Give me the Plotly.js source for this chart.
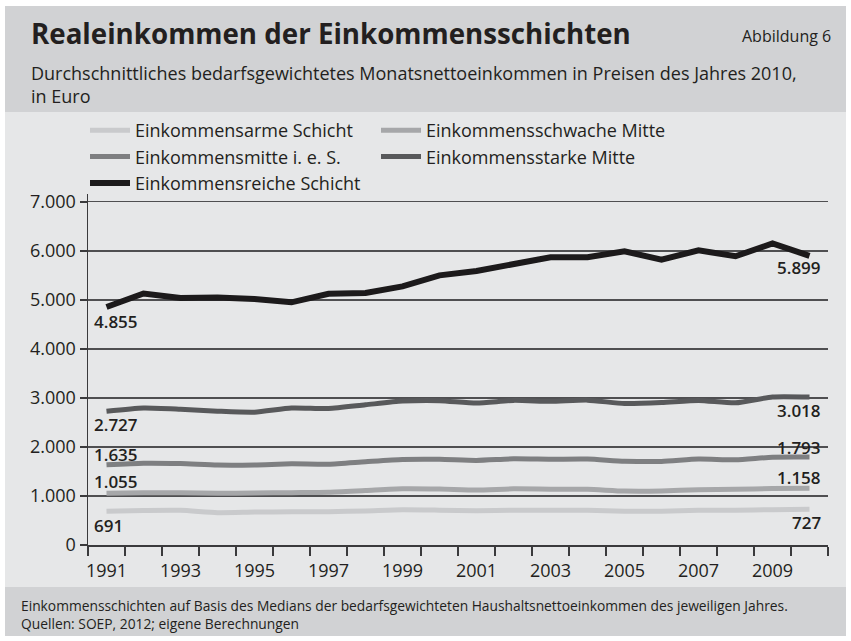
<!DOCTYPE html>
<html>
<head>
<meta charset="utf-8">
<script src="https://cdn.plot.ly/plotly-3.0.1.min.js"></script>
<style>html,body{margin:0;padding:0;background:#fff;}#chart{width:851px;height:641px;}</style>
</head>
<body>
<div id="chart"></div>
<script>
// ---- data ----
const years = [1991,1992,1993,1994,1995,1996,1997,1998,1999,2000,2001,2002,2003,2004,2005,2006,2007,2008,2009,2010];
const seriesNames = ["Einkommensarme Schicht","Einkommensschwache Mitte","Einkommensmitte i. e. S.","Einkommensstarke Mitte","Einkommensreiche Schicht"];
const arme     = [691, 705, 708, 660, 672, 676, 680, 695, 718, 710, 698, 708, 710, 708, 690, 688, 708, 710, 720, 727];
const schwache = [1055, 1065, 1068, 1055, 1060, 1068, 1075, 1110, 1145, 1140, 1120, 1145, 1138, 1136, 1100, 1102, 1128, 1135, 1152, 1158];
const mitte    = [1635, 1668, 1660, 1630, 1632, 1655, 1648, 1698, 1744, 1748, 1725, 1758, 1750, 1752, 1710, 1705, 1752, 1740, 1790, 1793];
const starke   = [2727, 2795, 2770, 2730, 2710, 2795, 2785, 2860, 2935, 2945, 2895, 2950, 2930, 2955, 2885, 2905, 2950, 2900, 3020, 3018];
const reiche   = [4855, 5130, 5040, 5050, 5020, 4950, 5125, 5140, 5275, 5500, 5590, 5725, 5870, 5870, 5990, 5820, 6010, 5890, 6150, 5899];
const xTickLabels = [1991,1993,1995,1997,1999,2001,2003,2005,2007,2009];
const yTickVals = [0,1000,2000,3000,4000,5000,6000,7000];

// ---- style ----
const allSeries = [arme, schwache, mitte, starke, reiche];
const colors = ["#c9cacc","#a6a7a9","#7e7f81","#58595b","#1c1a1b"];
const widths = [5,5,5,5,6];
const legendOf = ["legend","legend2","legend","legend2","legend"];
const leftShift  = [-14, 12, 10, -13, -14];
const rightShift = [-13, 10.5, 10, -13, -12];
const txt = "#231f20";
const FONT = "Open Sans, sans-serif";

const W = 851, H = 641, L = 88, R = 23, T = 194, B = 96;
const px = x => (x - L) / (W - L - R);
const py = y => 1 - (y - T) / (H - T - B);

const fmt = v => {
  const s = String(Math.round(v));
  return s.replace(/\B(?=(\d{3})+(?!\d))/g, ".");
};

const traces = allSeries.map((s, i) => ({
  x: years, y: s, type: "scatter", mode: "lines", name: seriesNames[i],
  line: {color: colors[i], width: widths[i], shape: i === 4 ? "linear" : "spline", smoothing: 0.6},
  legend: legendOf[i], hoverinfo: "x+y"
}));

const annotations = [];
allSeries.forEach((s, i) => {
  annotations.push({x: years[0], y: s[0], xref: "x", yref: "y", text: fmt(s[0]), showarrow: false,
    xanchor: "left", yanchor: "middle", xshift: -15, yshift: leftShift[i],
    font: {family: FONT, size: 17, color: txt, weight: 600}});
  const n = s.length - 1;
  annotations.push({x: years[n], y: s[n], xref: "x", yref: "y", text: fmt(s[n]), showarrow: false,
    xanchor: "right", yanchor: "middle", xshift: 13, yshift: rightShift[i],
    font: {family: FONT, size: 17, color: txt, weight: 600}});
});
// header / footer texts
annotations.push({xref:"paper", yref:"paper", x: px(29), y: py(33), xanchor:"left", yanchor:"middle", showarrow:false,
  text:"<b>Realeinkommen der Einkommensschichten</b>", font:{family:FONT, size:27.7, color:txt}});
annotations.push({xref:"paper", yref:"paper", x: px(833), y: py(36), xanchor:"right", yanchor:"middle", showarrow:false,
  text:"Abbildung 6", font:{family:FONT, size:16, color:txt}});
annotations.push({xref:"paper", yref:"paper", x: px(29), y: py(85), xanchor:"left", yanchor:"middle", showarrow:false, align:"left",
  text:"Durchschnittliches bedarfsgewichtetes Monatsnettoeinkommen in Preisen des Jahres 2010,<br>in Euro", font:{family:FONT, size:18, color:txt}});
annotations.push({xref:"paper", yref:"paper", x: px(19), y: py(614), xanchor:"left", yanchor:"middle", showarrow:false, align:"left",
  text:"Einkommensschichten auf Basis des Medians der bedarfsgewichteten Haushaltsnettoeinkommen des jeweiligen Jahres.<br>Quellen: SOEP, 2012; eigene Berechnungen", font:{family:FONT, size:13.8, color:txt}});

const shapes = [
  {type:"rect", xref:"paper", yref:"paper", x0:px(5), x1:px(846), y0:py(6), y1:py(112), fillcolor:"#d1d2d4", line:{width:0}, layer:"below"},
  {type:"rect", xref:"paper", yref:"paper", x0:px(5), x1:px(846), y0:py(112), y1:py(587), fillcolor:"#e6e7e8", line:{width:0}, layer:"below"},
  {type:"rect", xref:"paper", yref:"paper", x0:px(5), x1:px(846), y0:py(587), y1:py(636), fillcolor:"#d1d2d4", line:{width:0}, layer:"below"}
];

const minorVals = [];
for (let k = 0; k <= years.length; k++) minorVals.push(years[0] - 0.5 + k);

const layout = {
  width: W, height: H, autosize: false,
  margin: {l: L, r: R, t: T, b: B, pad: 0},
  paper_bgcolor: "#ffffff", plot_bgcolor: "rgba(0,0,0,0)",
  separators: ",.",
  showlegend: true,
  font: {family: FONT, color: txt, size: 18},
  xaxis: {
    range: [years[0] - 0.5, years[years.length - 1] + 0.5],
    tickmode: "array", tickvals: xTickLabels, ticktext: xTickLabels.map(String),
    ticks: "outside", ticklen: 9, tickcolor: "rgba(0,0,0,0)",
    showgrid: false, zeroline: false, showline: true, linecolor: "#3a3a3c", linewidth: 1.5,
    tickfont: {family: FONT, size: 18, color: txt},
    minor: {tickmode: "array", tickvals: minorVals, ticks: "outside", ticklen: 9, tickwidth: 1.5, tickcolor: "#3a3a3c", showgrid: false}
  },
  yaxis: {
    range: [0, 7160], tickmode: "array", tickvals: yTickVals, ticktext: yTickVals.map(fmt),
    ticks: "outside", ticklen: 7, tickwidth: 1.5, tickcolor: "#3a3a3c",
    showgrid: true, gridcolor: "#4f4f51", gridwidth: 1.3, zeroline: false,
    showline: true, linecolor: "#3a3a3c", linewidth: 1.5,
    tickfont: {family: FONT, size: 18, color: txt}
  },
  legend: {x: px(85), y: py(112), xanchor: "left", yanchor: "top", orientation: "v", bgcolor: "rgba(0,0,0,0)",
    font: {family: FONT, size: 18, color: txt}, itemwidth: 40, tracegroupgap: 0, traceorder: "normal"},
  legend2: {x: px(376), y: py(112), xanchor: "left", yanchor: "top", orientation: "v", bgcolor: "rgba(0,0,0,0)",
    font: {family: FONT, size: 18, color: txt}, itemwidth: 40, tracegroupgap: 0, traceorder: "normal"},
  shapes: shapes,
  annotations: annotations
};

Plotly.newPlot("chart", traces, layout, {displayModeBar: false, staticPlot: true});
</script>
</body>
</html>
